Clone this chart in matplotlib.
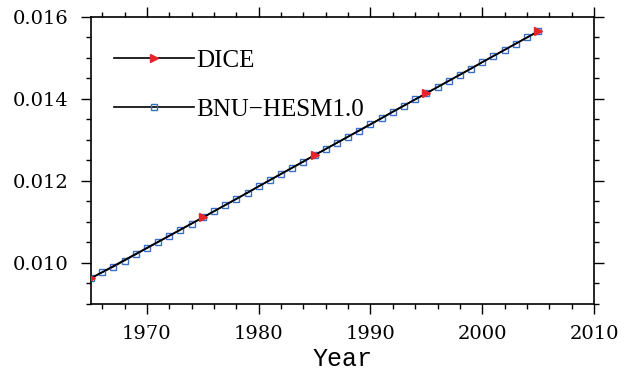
import matplotlib
matplotlib.use("Agg")
import matplotlib.pyplot as plt
from matplotlib.ticker import MultipleLocator

# DICE every 10 years
dice_years = [1965, 1975, 1985, 1995, 2005]
dice_vals = [0.00963, 0.01111, 0.01263, 0.01414, 0.01565]

# BNU-HESM1.0 yearly
bnu_years = list(range(1965, 2006))
bnu_vals = [0.00963, 0.00977, 0.00991, 0.01006, 0.01021, 0.01036, 0.01051,
            0.01066, 0.01081, 0.01096, 0.01111, 0.01126, 0.01141, 0.01156,
            0.01171, 0.01187, 0.01202, 0.01217, 0.01232, 0.01247, 0.01263,
            0.01278, 0.01293, 0.01308, 0.01323, 0.01338, 0.01353, 0.01369,
            0.01384, 0.01399, 0.01414, 0.01429, 0.01444, 0.01459, 0.01474,
            0.01490, 0.01505, 0.01520, 0.01535, 0.01550, 0.01565]

xticks = [1970, 1980, 1990, 2000, 2010]
yticks = [0.010, 0.012, 0.014, 0.016]

fig = plt.figure(figsize=(6.29, 3.81), dpi=100)
ax = fig.add_axes([0.1447, 0.2021, 0.7997, 0.7533])

ax.plot(bnu_years, bnu_vals, color='black', lw=1.2, marker='s', ms=5,
        mfc='none', mec='#3a6fc4', mew=1.0, label='BNU\u2212HESM1.0', zorder=2)
ax.plot(dice_years, dice_vals, color='black', lw=1.2, marker='>', ms=6,
        mfc='#e8242a', mec='#e8242a', label='DICE', zorder=3)

ax.set_xlim(1965, 2010)
ax.set_ylim(0.009, 0.016)
ax.set_xticks(xticks)
ax.set_xticklabels([str(t) for t in xticks])
ax.set_yticks(yticks)
ax.set_yticklabels(['%.3f' % t for t in yticks])
ax.xaxis.set_minor_locator(MultipleLocator(2))
ax.yaxis.set_minor_locator(MultipleLocator(0.0005))

ax.tick_params(which='both', direction='out', top=True, right=True, width=1.0)
ax.tick_params(which='major', length=7.2)
ax.tick_params(which='minor', length=3.6)
ax.tick_params(axis='y', which='major', pad=9)
ax.tick_params(axis='x', which='major', pad=8)
for lab in ax.get_xticklabels() + ax.get_yticklabels():
    lab.set_family('DejaVu Serif')
    lab.set_fontsize(14)
for sp in ax.spines.values():
    sp.set_linewidth(1.2)

ax.set_xlabel('Year', family='Liberation Mono', fontsize=18, labelpad=3)

handles, labels = ax.get_legend_handles_labels()
leg = ax.legend(handles[::-1], labels[::-1], loc='upper left', frameon=False,
                prop={'family': 'Liberation Serif', 'size': 18},
                handlelength=3.2, handletextpad=0.1, labelspacing=1.05,
                bbox_to_anchor=(0.026, 0.922), borderaxespad=0.0, numpoints=1)

fig.savefig('out.png', dpi=100)
